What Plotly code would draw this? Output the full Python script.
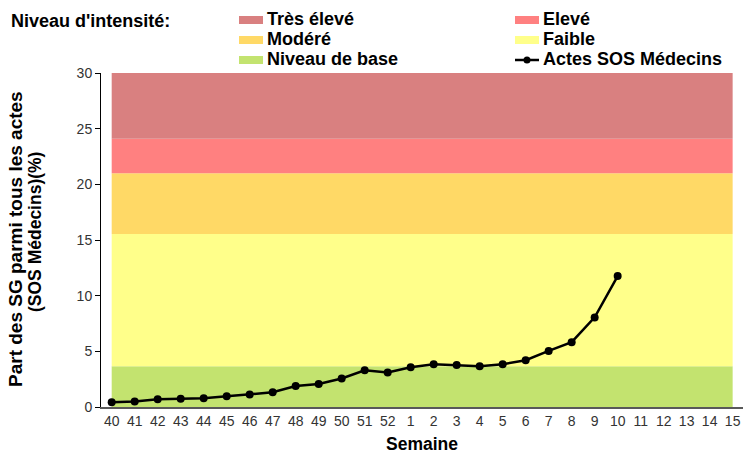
import plotly.graph_objects as go

# ---- data ----
weeks = ["40", "41", "42", "43", "44", "45", "46", "47", "48", "49", "50", "51", "52",
         "1", "2", "3", "4", "5", "6", "7", "8", "9", "10", "11", "12", "13", "14", "15"]
sos_weeks = ["40", "41", "42", "43", "44", "45", "46", "47", "48", "49", "50", "51", "52",
             "1", "2", "3", "4", "5", "6", "7", "8", "9", "10"]
sos_values = [0.42, 0.5, 0.69, 0.75, 0.78, 0.96, 1.12, 1.32, 1.89, 2.07, 2.56, 3.3, 3.1,
              3.57, 3.84, 3.78, 3.66, 3.84, 4.2, 5.04, 5.82, 8.05, 11.76]
level_names = ["Niveau de base", "Faible", "Modéré", "Elevé", "Très élevé"]
level_bounds = [0, 3.66, 15.54, 21.0, 24.1, 30]
level_colors = ["#C3E36F", "#FFFF8A", "#FFD966", "#FF8080", "#D98080"]

W, H = 743, 455
ML, MR, MT, MB = 101, 0, 73, 48
PW = W - ML - MR
PH = H - MT - MB


def px(x):
    return (x - ML) / PW


def py(y):
    return (H - MB - y) / PH


fig = go.Figure()

shapes = []
for i, name in enumerate(level_names):
    shapes.append(dict(type="rect", xref="x", yref="y", layer="below",
                       x0=0, x1=len(weeks) - 1,
                       y0=level_bounds[i], y1=level_bounds[i + 1],
                       fillcolor=level_colors[i], line=dict(width=0)))

fig.add_trace(go.Scatter(x=sos_weeks, y=sos_values, mode="lines+markers",
                         line=dict(color="black", width=2.5),
                         marker=dict(color="black", size=8),
                         name="Actes SOS Médecins", showlegend=False,
                         cliponaxis=False))

FONT = "Liberation Sans, Arial, sans-serif"
annotations = []

# legend
annotations.append(dict(text="<b>Niveau d'intensité:</b>", xref="paper", yref="paper",
                        x=px(9), y=py(21), xanchor="left", yanchor="middle",
                        showarrow=False, font=dict(size=18, color="black", family=FONT)))
legend_items = [
    ("Très élevé", level_colors[4], 0, 0),
    ("Elevé", level_colors[3], 1, 0),
    ("Modéré", level_colors[2], 0, 1),
    ("Faible", level_colors[1], 1, 1),
    ("Niveau de base", level_colors[0], 0, 2),
]
col_x = [239, 515]
row_y = [19, 39, 59]
for name, color, c, r in legend_items:
    x0 = col_x[c]
    yc = row_y[r]
    shapes.append(dict(type="rect", xref="paper", yref="paper",
                       x0=px(x0), x1=px(x0 + 24), y0=py(yc + 5), y1=py(yc - 3),
                       fillcolor=color, line=dict(width=0)))
    annotations.append(dict(text="<b>" + name + "</b>", xref="paper", yref="paper",
                            x=px(x0 + 26), y=py(yc), xanchor="left", yanchor="middle",
                            showarrow=False,
                            font=dict(size=18, color="black", family=FONT)))
# line legend
x0 = col_x[1]
yc = row_y[2]
shapes.append(dict(type="line", xref="paper", yref="paper",
                   x0=px(x0), x1=px(x0 + 24), y0=py(yc + 1), y1=py(yc + 1),
                   line=dict(color="black", width=2.5)))
shapes.append(dict(type="circle", xref="paper", yref="paper",
                   x0=px(x0 + 8.5), x1=px(x0 + 15.5), y0=py(yc + 4.5), y1=py(yc - 2.5),
                   fillcolor="black", line=dict(width=0)))
annotations.append(dict(text="<b>Actes SOS Médecins</b>", xref="paper", yref="paper",
                        x=px(x0 + 26), y=py(yc), xanchor="left", yanchor="middle",
                        showarrow=False, font=dict(size=18, color="black", family=FONT)))

# axis titles (two separate lines for tight line spacing)
annotations.append(dict(text="<b>Part des SG parmi tous les actes</b>",
                        xref="paper", yref="paper", x=px(15), y=py(239), textangle=-90,
                        xanchor="center", yanchor="middle", showarrow=False,
                        font=dict(size=19, color="black", family=FONT)))
annotations.append(dict(text="<b>(SOS Médecins)(%)</b>",
                        xref="paper", yref="paper", x=px(35), y=py(232), textangle=-90,
                        xanchor="center", yanchor="middle", showarrow=False,
                        font=dict(size=17.5, color="black", family=FONT)))
annotations.append(dict(text="<b>Semaine</b>", xref="paper", yref="paper",
                        x=0.5, y=py(444), xanchor="center", yanchor="middle",
                        showarrow=False, font=dict(size=17.5, color="black", family=FONT)))

fig.update_layout(
    width=W, height=H,
    margin=dict(l=ML, r=MR, t=MT, b=MB),
    paper_bgcolor="white", plot_bgcolor="white",
    showlegend=False,
    shapes=shapes, annotations=annotations,
    font=dict(family=FONT, color="#333333", size=14),
    xaxis=dict(type="category", categoryorder="array", categoryarray=weeks,
               range=[-0.465, 27.45], showgrid=False, zeroline=False,
               showline=True, linecolor="#595959", linewidth=1.5,
               ticks="", tickfont=dict(size=14, color="#333333")),
    yaxis=dict(range=[0, 30], dtick=5, showgrid=False, zeroline=False,
               showline=True, linecolor="black", linewidth=1,
               ticks="outside", ticklen=5, tickcolor="black",
               tickfont=dict(size=14, color="#333333")),
)

fig.write_html("out.html", config={"displayModeBar": False},
               post_script="document.body.style.margin='0';document.body.style.overflow='hidden';")
